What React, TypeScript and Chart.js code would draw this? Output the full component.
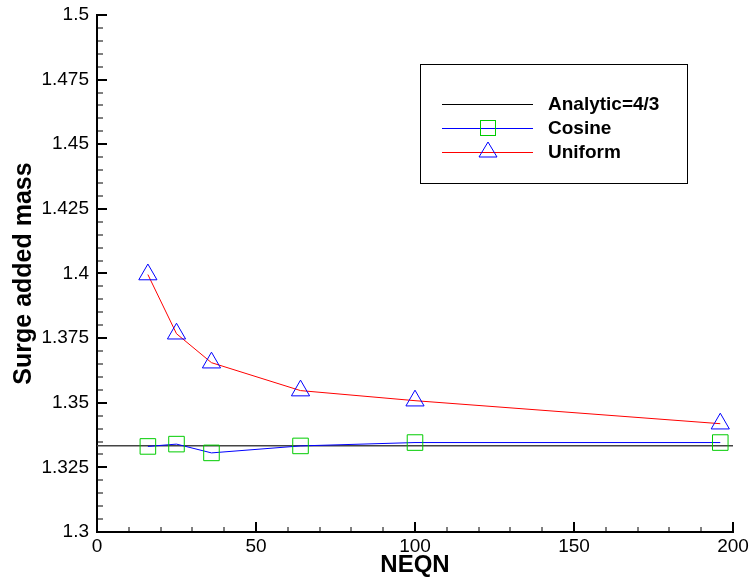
import React, { useEffect, useRef } from "react";
import { Chart, registerables } from "chart.js";

Chart.register(...registerables);

const neqn = [16, 25, 36, 64, 100, 196];
const cosineValues = [1.3331, 1.334, 1.3306, 1.3333, 1.3346, 1.3346];
const uniformValues = [1.3996, 1.3767, 1.3655, 1.3547, 1.3508, 1.3419];
const analyticX = [0, 200];
const analyticValue = 4 / 3;
const legendLabels = ["Analytic=4/3", "Cosine", "Uniform"];
const xMajorStep = 50;
const xMinorStep = 10;
const yMajorStep = 0.025;
const yMinorStep = 0.005;

const FONT = "Arial, 'Liberation Sans', Helvetica, sans-serif";

const tickPlugin = {
  id: "insideTicks",
  afterDraw(chart: any) {
    const ctx = chart.ctx;
    const xs = chart.scales.x;
    const ys = chart.scales.y;
    const area = chart.chartArea;
    ctx.save();
    ctx.strokeStyle = "#000";
    const nx = Math.round((xs.max - xs.min) / xMinorStep);
    for (let i = 0; i <= nx; i++) {
      const v = xs.min + i * xMinorStep;
      const major = Math.abs(v / xMajorStep - Math.round(v / xMajorStep)) < 1e-6;
      const px = Math.round(xs.getPixelForValue(v));
      ctx.lineWidth = major ? 2 : 1;
      ctx.beginPath();
      ctx.moveTo(px, area.bottom);
      ctx.lineTo(px, area.bottom - (major ? 10 : 5));
      ctx.stroke();
    }
    const ny = Math.round((ys.max - ys.min) / yMinorStep);
    for (let i = 0; i <= ny; i++) {
      const v = ys.min + i * yMinorStep;
      const major = Math.abs(v / yMajorStep - Math.round(v / yMajorStep)) < 1e-6;
      const py = Math.round(ys.getPixelForValue(v));
      ctx.lineWidth = major ? 2 : 1;
      ctx.beginPath();
      ctx.moveTo(area.left, py);
      ctx.lineTo(area.left + (major ? 10 : 6), py);
      ctx.stroke();
    }
    ctx.restore();
  },
};

const legendPlugin = {
  id: "boxLegend",
  afterDraw(chart: any) {
    const ctx = chart.ctx;
    const boxLeft = 420.5;
    const boxTop = 64.5;
    const boxW = 267;
    const boxH = 119;
    ctx.save();
    ctx.fillStyle = "#fff";
    ctx.fillRect(boxLeft, boxTop, boxW, boxH);
    ctx.strokeStyle = "#000";
    ctx.lineWidth = 1;
    ctx.strokeRect(boxLeft, boxTop, boxW, boxH);
    const rows = [104, 128, 152];
    const lineColors = ["#000000", "#0000ff", "#ff0000"];
    const x0 = 442;
    const x1 = 533;
    const mx = 488;
    rows.forEach((y, i) => {
      ctx.strokeStyle = lineColors[i];
      ctx.lineWidth = 1;
      ctx.beginPath();
      ctx.moveTo(x0, y + 0.5);
      ctx.lineTo(x1, y + 0.5);
      ctx.stroke();
      if (i === 1) {
        ctx.strokeStyle = "#00cc00";
        ctx.strokeRect(mx - 7.5, y - 7.5, 15, 15);
      }
      if (i === 2) {
        ctx.strokeStyle = "#0000ff";
        ctx.beginPath();
        ctx.moveTo(mx, y - 10);
        ctx.lineTo(mx + 9, y + 5);
        ctx.lineTo(mx - 9, y + 5);
        ctx.closePath();
        ctx.stroke();
      }
      ctx.fillStyle = "#000";
      ctx.font = `bold 19px ${FONT}`;
      ctx.textBaseline = "middle";
      ctx.textAlign = "left";
      ctx.fillText(legendLabels[i], 548, y + 1);
    });
    ctx.restore();
  },
};

function fmt(v: number) {
  return String(Number(v.toFixed(4)));
}

export default function App() {
  const ref = useRef<HTMLCanvasElement | null>(null);
  useEffect(() => {
    const canvas = ref.current;
    if (!canvas) return;
    const chart = new Chart(canvas, {
      type: "scatter",
      data: {
        datasets: [
          {
            label: legendLabels[0],
            data: analyticX.map((x) => ({ x, y: analyticValue })),
            showLine: true,
            borderColor: "#444444",
            borderWidth: 1.5,
            pointRadius: 0,
            order: 3,
          },
          {
            label: legendLabels[1],
            data: neqn.map((x, i) => ({ x, y: cosineValues[i] })),
            showLine: true,
            borderColor: "#0000ff",
            borderWidth: 1,
            pointStyle: "rect",
            pointRadius: 11,
            pointBorderColor: "#00cc00",
            pointBackgroundColor: "rgba(0,0,0,0)",
            pointBorderWidth: 1,
            order: 2,
          },
          {
            label: legendLabels[2],
            data: neqn.map((x, i) => ({ x, y: uniformValues[i] })),
            showLine: true,
            borderColor: "#ff0000",
            borderWidth: 1,
            pointStyle: "triangle",
            pointRadius: 10.5,
            pointBorderColor: "#0000ff",
            pointBackgroundColor: "rgba(0,0,0,0)",
            pointBorderWidth: 1,
            order: 1,
          },
        ],
      },
      options: {
        responsive: false,
        animation: false,
        clip: false as any,
        layout: { padding: { top: 15, right: 17, left: 0, bottom: 0 } },
        plugins: {
          legend: { display: false },
          tooltip: { enabled: false },
        },
        scales: {
          x: {
            type: "linear",
            min: 0,
            max: 200,
            ticks: {
              stepSize: xMajorStep,
              color: "#000",
              font: { family: FONT, size: 19 },
              padding: 3,
              maxRotation: 0,
            },
            grid: { display: false, drawTicks: false },
            border: { display: true, color: "#000", width: 2 },
            title: {
              display: true,
              text: "NEQN",
              color: "#000",
              font: { family: FONT, size: 24, weight: "bold", lineHeight: 1 },
              padding: { top: 0, bottom: 0 },
            },
            afterFit(scale: any) {
              scale.height = 45;
              scale.paddingLeft = 0;
              scale.paddingRight = 0;
            },
          },
          y: {
            type: "linear",
            min: 1.3,
            max: 1.5,
            ticks: {
              stepSize: yMajorStep,
              color: "#000",
              font: { family: FONT, size: 19 },
              padding: 8,
              callback: (v: any) => fmt(Number(v)),
            },
            grid: { display: false, drawTicks: false },
            border: { display: true, color: "#000", width: 2 },
            title: {
              display: true,
              text: "Surge added mass",
              color: "#000",
              font: { family: FONT, size: 25, weight: "bold" },
              padding: { top: 9, bottom: 0 },
            },
            afterFit(scale: any) {
              scale.width = 97;
              scale.paddingTop = 0;
              scale.paddingBottom = 0;
            },
          },
        },
      },
      plugins: [tickPlugin, legendPlugin],
    } as any);
    return () => chart.destroy();
  }, []);
  return (
    <div style={{ position: "absolute", left: 0, top: 0, width: 750, height: 577, background: "#fff" }}>
      <canvas ref={ref} width={750} height={577} style={{ width: 750, height: 577, display: "block" }} />
    </div>
  );
}
